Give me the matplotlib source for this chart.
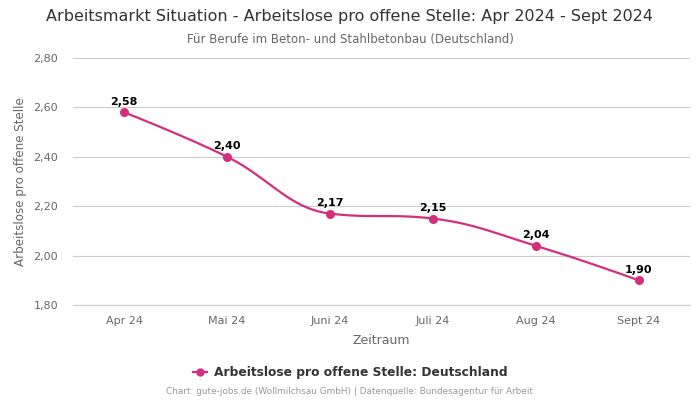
import numpy as np
from matplotlib import pyplot as plt

monate = ["Apr 24", "Mai 24", "Juni 24", "Juli 24", "Aug 24", "Sept 24"]
werte = [2.58, 2.40, 2.17, 2.15, 2.04, 1.90]
yticks = [1.80, 2.00, 2.20, 2.40, 2.60, 2.80]

farbe = "#d42f7c"


def spline(xs, ys, smoothing=1.5):
    # Bezier-Kurve wie Highcharts "spline"
    n = len(xs)
    links = [(xs[i], ys[i]) for i in range(n)]
    rechts = [(xs[i], ys[i]) for i in range(n)]
    d = smoothing + 1
    for i in range(1, n - 1):
        lx = (smoothing * xs[i] + xs[i - 1]) / d
        ly = (smoothing * ys[i] + ys[i - 1]) / d
        rx = (smoothing * xs[i] + xs[i + 1]) / d
        ry = (smoothing * ys[i] + ys[i + 1]) / d
        if rx != lx:
            korr = (ry - ly) * (rx - xs[i]) / (rx - lx) + ys[i] - ry
            ly += korr
            ry += korr
        if ly > ys[i - 1] and ly > ys[i]:
            ly = max(ys[i - 1], ys[i])
            ry = 2 * ys[i] - ly
        elif ly < ys[i - 1] and ly < ys[i]:
            ly = min(ys[i - 1], ys[i])
            ry = 2 * ys[i] - ly
        if ry > ys[i + 1] and ry > ys[i]:
            ry = max(ys[i + 1], ys[i])
            ly = 2 * ys[i] - ry
        elif ry < ys[i + 1] and ry < ys[i]:
            ry = min(ys[i + 1], ys[i])
            ly = 2 * ys[i] - ry
        links[i] = (lx, ly)
        rechts[i] = (rx, ry)
    t = np.linspace(0, 1, 60)[:, None]
    kurve = []
    for i in range(n - 1):
        p0 = np.array([xs[i], ys[i]])
        p1 = np.array(rechts[i])
        p2 = np.array(links[i + 1])
        p3 = np.array([xs[i + 1], ys[i + 1]])
        b = (1 - t) ** 3 * p0 + 3 * (1 - t) ** 2 * t * p1 + 3 * (1 - t) * t ** 2 * p2 + t ** 3 * p3
        kurve.append(b)
    kurve = np.vstack(kurve)
    return kurve[:, 0], kurve[:, 1]


x = np.arange(len(monate))

fig = plt.figure(figsize=(7, 4), dpi=100)
ax = fig.add_axes([0.104, 0.2375, 0.882, 0.6175])

kx, ky = spline(list(x), werte)
ax.plot(kx, ky, color=farbe, lw=1.6, zorder=3)
ax.plot(x, werte, "o", color=farbe, ms=5.5, zorder=4)

for xi, w in zip(x, werte):
    ax.annotate(f"{w:.2f}".replace(".", ","), (xi, w), xytext=(0, 4), textcoords="offset points",
                ha="center", va="bottom", fontsize=8, fontweight="bold", color="black")

ax.set_xlim(-0.5, len(monate) - 0.5)
ax.set_ylim(1.80, 2.80)
ax.set_xticks(x)
ax.set_xticklabels(monate)
ax.set_yticks(yticks)
ax.set_yticklabels([f"{v:.2f}".replace(".", ",") for v in yticks])
ax.tick_params(axis="both", colors="#666666", labelsize=8, length=0, pad=8)
ax.tick_params(axis="y", pad=10.5)
ax.grid(axis="y", color="#cccccc", lw=0.8)
ax.set_axisbelow(True)
for s in ax.spines.values():
    s.set_visible(False)
ax.spines["bottom"].set_visible(True)
ax.spines["bottom"].set_color("#cccccc")
ax.spines["bottom"].set_linewidth(0.8)

ax.set_xlabel("Zeitraum", color="#666666", fontsize=9, labelpad=6)
ax.set_ylabel("Arbeitslose pro offene Stelle", color="#666666", fontsize=8.6, labelpad=5)

fig.text(0.5, 0.958, "Arbeitsmarkt Situation - Arbeitslose pro offene Stelle: Apr 2024 - Sept 2024",
         ha="center", va="center", fontsize=11.5, color="#333333")
fig.text(0.5, 0.902, "Für Berufe im Beton- und Stahlbetonbau (Deutschland)",
         ha="center", va="center", fontsize=8.5, color="#666666")

ax.plot([], [], "-o", color=farbe, ms=5, lw=1.6, label="Arbeitslose pro offene Stelle: Deutschland")
leg = fig.legend(loc="center", bbox_to_anchor=(0.5, 0.068), frameon=False,
                 handlelength=1.2, handletextpad=0.5, prop={"weight": "bold", "size": 8.8})
for t in leg.get_texts():
    t.set_color("#333333")

fig.text(0.5, 0.02, "Chart: gute-jobs.de (Wollmilchsau GmbH) | Datenquelle: Bundesagentur für Arbeit",
         ha="center", va="center", fontsize=6.4, color="#999999")

plt.savefig("out.png", dpi=100)
plt.close()
